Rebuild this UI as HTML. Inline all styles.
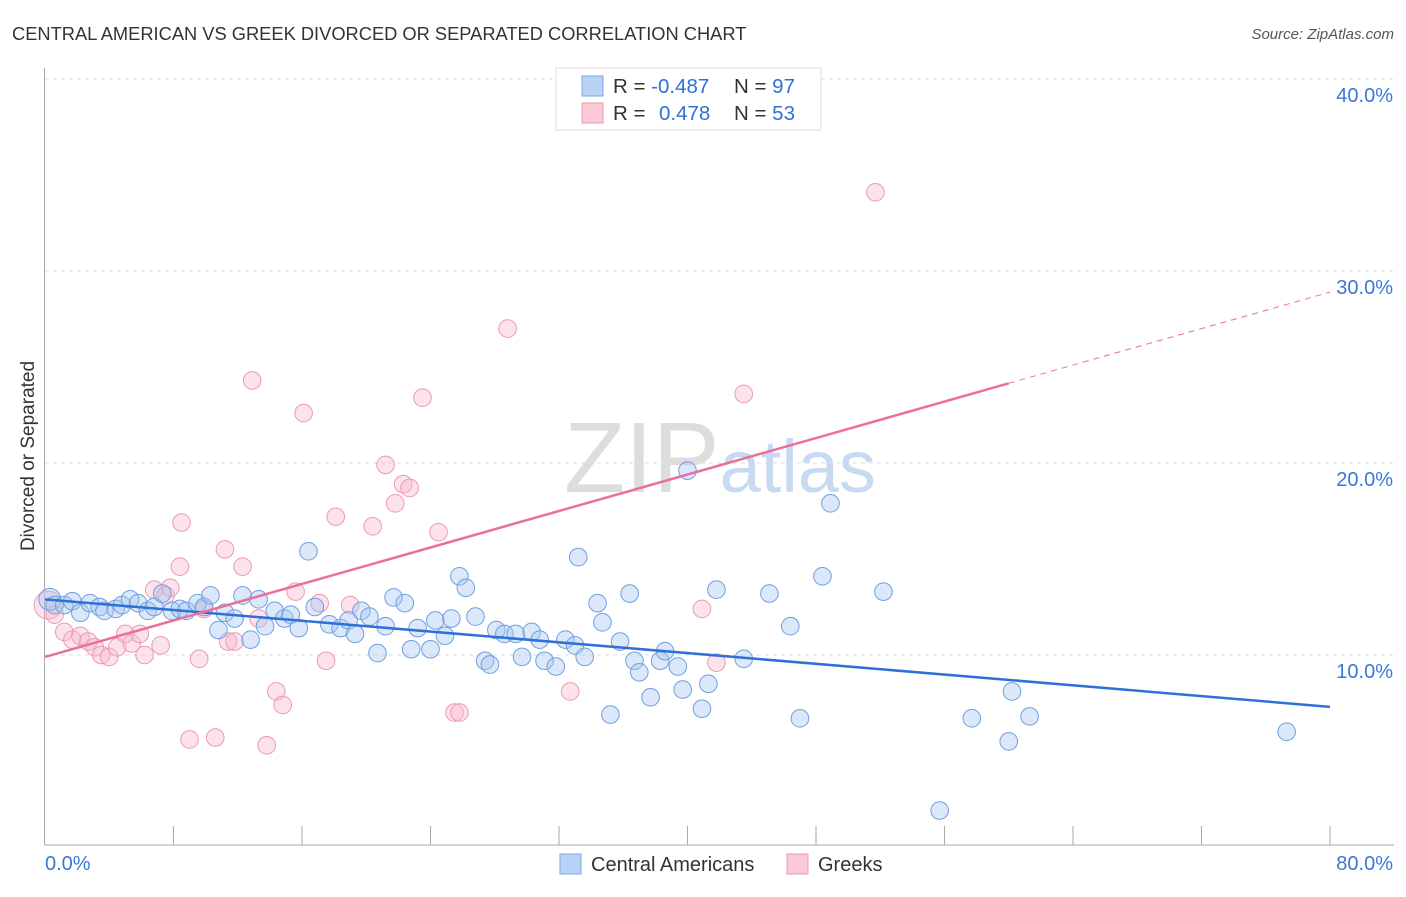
<!DOCTYPE html>
<html><head><meta charset="utf-8"><style>
body{margin:0;background:#fff;font-family:"Liberation Sans",sans-serif}
svg text{font-family:"Liberation Sans",sans-serif}
</style></head><body>
<svg width="1406" height="892" xmlns="http://www.w3.org/2000/svg">
<text x="12" y="40" font-size="18.3" fill="#333">CENTRAL AMERICAN VS GREEK DIVORCED OR SEPARATED CORRELATION CHART</text>
<text x="1394" y="39" font-size="15" fill="#555" text-anchor="end" font-style="italic">Source: ZipAtlas.com</text>
<text x="34" y="456" font-size="19" fill="#333" text-anchor="middle" transform="rotate(-90 34 456)">Divorced or Separated</text>
<g id="grid"></g>
<text x="720" y="492" font-size="100" fill="#ddd" text-anchor="middle" font-family="Liberation Serif">ZIP<tspan fill="#c8daf2" font-family="Liberation Sans" font-size="74">atlas</tspan></text>
<g id="axes"></g>
<g id="marks"></g>
<g>
<rect x="556" y="68" width="265" height="62" fill="#fff" stroke="#ddd"/>
<rect x="582" y="76" width="21" height="20" fill="#b8d3f5" stroke="#7aa7e6"/>
<rect x="582" y="103" width="21" height="20" fill="#fbc8d6" stroke="#ee9ab4"/>
<text x="613" y="93" font-size="20.5" fill="#333">R = <tspan fill="#2f6fd8">-0.487</tspan></text>
<text x="734" y="93" font-size="20.5" fill="#333">N = <tspan fill="#2f6fd8">97</tspan></text>
<text x="613" y="120" font-size="20.5" fill="#333">R = <tspan fill="#2f6fd8" x="659">0.478</tspan></text>
<text x="734" y="120" font-size="20.5" fill="#333">N = <tspan fill="#2f6fd8">53</tspan></text>
</g>
<g>
<rect x="560" y="854" width="21" height="20" fill="#b8d3f5" stroke="#7aa7e6"/>
<text x="591" y="871" font-size="20" fill="#333">Central Americans</text>
<rect x="787" y="854" width="21" height="20" fill="#fbc8d6" stroke="#ee9ab4"/>
<text x="818" y="871" font-size="20" fill="#333">Greeks</text>
</g>
</svg>
<script>
const blueX=[0.3,0.6,1.2,1.7,2.2,2.8,3.4,3.7,4.4,4.8,5.3,5.8,6.4,6.8,7.3,7.9,8.4,8.8,9.5,9.9,10.3,10.8,11.2,11.8,12.3,12.8,13.3,13.7,14.3,14.9,15.3,15.8,16.4,16.8,17.7,18.4,18.9,19.3,19.7,20.2,20.7,21.2,21.7,22.4,22.8,23.2,24.0,24.3,24.9,25.3,25.8,26.2,26.8,27.4,27.7,28.1,28.6,29.3,29.7,30.3,30.8,31.1,31.8,32.4,33.0,33.2,33.6,34.4,34.7,35.2,35.8,36.4,36.7,37.0,37.7,38.3,38.6,39.4,39.7,40.0,40.9,41.3,41.8,43.5,45.1,46.4,47.0,48.4,48.9,52.2,55.7,57.7,60.0,60.2,61.3,77.3];
const blueY=[12.9,12.6,12.6,12.8,12.2,12.7,12.5,12.3,12.4,12.6,12.9,12.7,12.3,12.5,13.2,12.3,12.4,12.3,12.7,12.5,13.1,11.3,12.2,11.9,13.1,10.8,12.9,11.5,12.3,11.9,12.1,11.4,15.4,12.5,11.6,11.4,11.8,11.1,12.3,12.0,10.1,11.5,13.0,12.7,10.3,11.4,10.3,11.8,11.0,11.9,14.1,13.5,12.0,9.7,9.5,11.3,11.1,11.1,9.9,11.2,10.8,9.7,9.4,10.8,10.5,15.1,9.9,12.7,11.7,6.9,10.7,13.2,9.7,9.1,7.8,9.7,10.2,9.4,8.2,19.6,7.2,8.5,13.4,9.8,13.2,11.5,6.7,14.1,17.9,13.3,1.9,6.7,5.5,8.1,6.8,6.0];
const pinkX=[0.2,0.6,1.2,1.7,2.2,2.7,3.1,3.5,4.0,4.5,5.0,5.4,5.9,6.2,6.8,7.2,7.5,7.8,8.4,8.5,9.0,9.6,9.9,10.6,11.2,11.4,11.8,12.3,12.9,13.3,13.8,14.4,14.8,15.6,16.1,17.1,17.5,18.1,19.0,20.4,21.2,21.8,22.3,22.7,23.5,24.5,25.5,25.8,28.8,32.7,40.9,41.8,43.5,51.7];
const pinkY=[12.6,12.1,11.2,10.8,11.0,10.7,10.4,10.0,9.9,10.4,11.1,10.6,11.1,10.0,13.4,10.5,13.1,13.5,14.6,16.9,5.6,9.8,12.4,5.7,15.5,10.7,10.7,14.6,24.3,11.9,5.3,8.1,7.4,13.3,22.6,12.7,9.7,17.2,12.6,16.7,19.9,17.9,18.9,18.7,23.4,16.4,7.0,7.0,27.0,8.1,12.4,9.6,23.6,34.1];
const blueTrend=[12.9,7.3];
const pinkTrend=[9.9,28.9];
const pinkSolidEnd=60;
const yTicks=[10,20,30,40];
const xTickLabels=["0.0%","80.0%"];
const NS="http://www.w3.org/2000/svg";
const sx=v=>45+v/80*1285, sy=v=>847-v*19.2;
function mk(tag,attrs,parent){const e=document.createElementNS(NS,tag);for(const k in attrs)e.setAttribute(k,attrs[k]);parent.appendChild(e);return e;}
const grid=document.getElementById('grid'),axes=document.getElementById('axes'),marks=document.getElementById('marks');
yTicks.forEach(t=>{
 const l=mk('line',{x1:45,x2:1394,y1:sy(t),y2:sy(t),stroke:'#ddd','stroke-dasharray':'4,4'},grid);
 
 
 const tx=mk('text',{x:1393,y:sy(t)+23,'font-size':20,fill:'#3a78d8','text-anchor':'end'},axes);
 tx.textContent=t.toFixed(1)+'%';
 
 
});
mk('line',{x1:44.5,x2:44.5,y1:68,y2:845,stroke:'#aaa'},axes);
mk('line',{x1:44.5,x2:1394,y1:845,y2:845,stroke:'#aaa'},axes);
for(let i=1;i<=10;i++){const x=sx(i*8);const tk=mk('line',{x1:x,x2:x,y1:826,y2:845,stroke:'#aaa'},axes);
 
 }
const xl0=mk('text',{x:45,y:870,'font-size':20,fill:'#3a78d8'},axes);xl0.textContent=xTickLabels[0];


const xl1=mk('text',{x:1393,y:870,'font-size':20,fill:'#3a78d8','text-anchor':'end'},axes);xl1.textContent=xTickLabels[1];


pinkX.forEach((x,i)=>{const c=mk('circle',{cx:sx(x),cy:sy(pinkY[i]),r:i==0?14:8.8,fill:'rgba(248,185,205,0.4)',stroke:'#ec9ab3','stroke-width':1},marks);
 
 });
blueX.forEach((x,i)=>{const c=mk('circle',{cx:sx(x),cy:sy(blueY[i]),r:i==0?11:8.8,fill:'rgba(165,198,240,0.4)',stroke:'#6f9fe0','stroke-width':1},marks);
 
 });
const bl=mk('line',{x1:sx(0),y1:sy(blueTrend[0]),x2:sx(80),y2:sy(blueTrend[1]),stroke:'#2f6fd8','stroke-width':2.5},marks);


const pm=pinkTrend[0]+(pinkTrend[1]-pinkTrend[0])*pinkSolidEnd/80;
const pl=mk('line',{x1:sx(0),y1:sy(pinkTrend[0]),x2:sx(pinkSolidEnd),y2:sy(pm),stroke:'#e8709a','stroke-width':2.5},marks);


const pd=mk('line',{x1:sx(pinkSolidEnd),y1:sy(pm),x2:sx(80),y2:sy(pinkTrend[1]),stroke:'#e8709a','stroke-width':1,'stroke-dasharray':'6,5'},marks);


</script>
</body></html>
